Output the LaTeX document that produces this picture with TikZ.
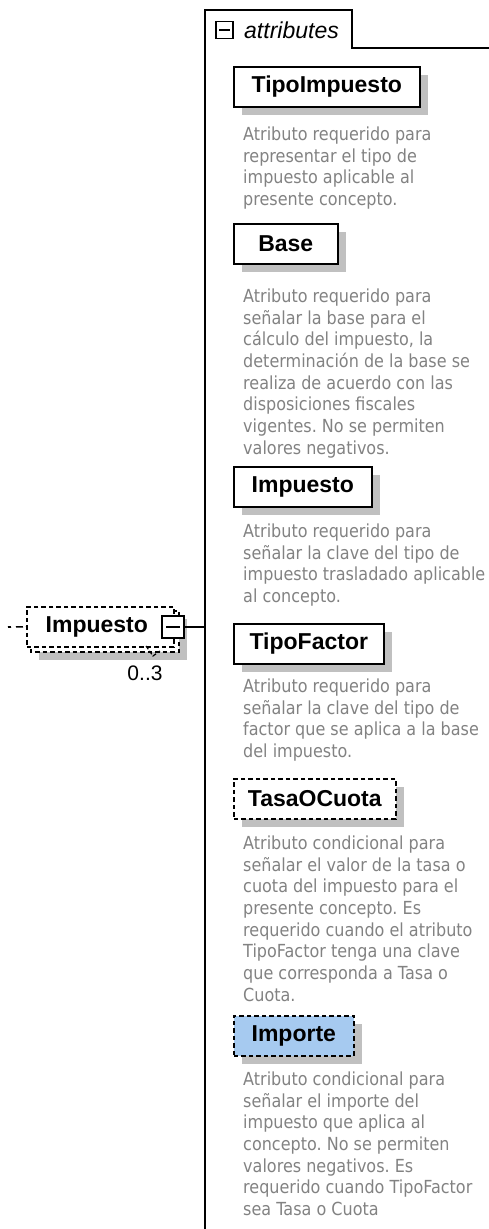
\documentclass[tikz,border=0pt]{standalone}
\usepackage{fontspec}
\setmainfont{Liberation Sans}
\newfontfamily\descfont{DejaVu Sans}[FakeStretch=0.89]
\usetikzlibrary{shadows,calc}
\definecolor{shadowgray}{RGB}{192,192,192}
\definecolor{desctext}{RGB}{130,130,130}
\definecolor{selblue}{RGB}{166,202,240}
\frenchspacing
\begin{document}
\begin{tikzpicture}[x=1pt,y=-1pt,
  attrbox/.style={draw=black, line width=1.6pt, fill=white, inner sep=0pt,
    minimum height=40pt, anchor=north west,
    font=\fontsize{23}{27}\selectfont\bfseries,
    drop shadow={shadow xshift=8pt, shadow yshift=-8pt, fill=shadowgray, opacity=1}},
  optbox/.style={attrbox, dash pattern=on 4.5pt off 3pt},
  desc/.style={anchor=north west, inner sep=0pt, align=left, text=desctext,
    font=\descfont\fontsize{18}{21.7}\selectfont\frenchspacing},
  elemdash/.style={draw=black, line width=1.6pt, dash pattern=on 4.5pt off 3pt},
  collbox/.style={draw=black, line width=1.4pt, fill=white, inner sep=0pt, minimum size=#1},
]
\useasboundingbox (0,0) rectangle (489,1229);

% attributes container
\coordinate (cbot) at (205,1229);
\coordinate (ctl) at (205,10);
\coordinate (ctr) at (352,10);
\coordinate (ctb) at (352,48);
\coordinate (cend) at (489,48);
\draw[line width=1.8pt, line join=miter] (cbot) -- (ctl) -- (ctr) -- (ctb) -- (cend);
\node[collbox=17pt] (attrcoll) at (224.5,30) {};
\draw[line width=1.4pt] ($(attrcoll.center)+(-5.5,0)$) -- ($(attrcoll.center)+(5.5,0)$);
\node[anchor=west, inner sep=0pt, font=\fontsize{23}{27}\selectfont\itshape] (attrlbl) at (244,30) {attributes};

% attributes
\node[attrbox, minimum width=186pt] (tipoimp) at (233,66) {TipoImpuesto};
\node[desc] (d1) at (243,125) {\strut Atributo requerido para\\representar el tipo de\\impuesto aplicable al\\presente concepto.};

\node[attrbox, minimum width=104pt] (base) at (233,223) {Base};
\node[desc] (d2) at (243,287) {\strut Atributo requerido para\\señalar la base para el\\cálculo del impuesto, la\\determinación de la base se\\realiza de acuerdo con las\\disposiciones fiscales\\vigentes. No se permiten\\valores negativos.};

\node[attrbox, minimum width=138pt] (impattr) at (233,466) {Impuesto};
\node[desc] (d3) at (243,522) {\strut Atributo requerido para\\señalar la clave del tipo de\\impuesto trasladado aplicable\\al concepto.};

\node[attrbox, minimum width=150pt] (tipofac) at (233,623) {TipoFactor};
\node[desc] (d4) at (243,677) {\strut Atributo requerido para\\señalar la clave del tipo de\\factor que se aplica a la base\\del impuesto.};

\node[optbox, minimum width=162pt] (tasa) at (233,778) {TasaOCuota};
\node[desc] (d5) at (243,834) {\strut Atributo condicional para\\señalar el valor de la tasa o\\cuota del impuesto para el\\presente concepto. Es\\requerido cuando el atributo\\TipoFactor tenga una clave\\que corresponda a Tasa o\\Cuota.};

\node[optbox, fill=selblue, minimum width=120pt] (importe) at (233,1015) {Importe};
\node[desc] (d6) at (243,1070) {\strut Atributo condicional para\\señalar el importe del\\impuesto que aplica al\\concepto. No se permiten\\valores negativos. Es\\requerido cuando TipoFactor\\sea Tasa o Cuota};

% element Impuesto (0..3)
\fill[shadowgray] (39,619) rectangle (187,660);
\draw[elemdash, fill=white] (31,611) rectangle (179,652);
\node[elemdash, fill=white, inner sep=0pt, minimum width=147pt, minimum height=40pt,
  anchor=north west, font=\fontsize{23}{27}\selectfont\bfseries] (elem) at (26,606)
  {\hspace*{-7pt}Impuesto};
\draw[line width=1.2pt, dash pattern=on 4pt off 2pt] (146,646) -- (153,656) -- (160,651);
\node[collbox=22pt] (coll) at (173,627) {};
\draw[line width=1.4pt] ($(coll.center)+(-7,0)$) -- ($(coll.center)+(7,0)$);
\coordinate (attrjoin) at (205,627);
\draw[line width=1.6pt] (coll.east) -- (attrjoin);
\coordinate (leftend) at (8,627);
\draw[line width=1.6pt, dash pattern=on 3pt off 5pt on 7pt off 3pt] (leftend) -- (elem.west);
\node[inner sep=0pt, font=\fontsize{21}{25}\selectfont] (occ) at (145,673) {0..3};
\end{tikzpicture}
\end{document}
